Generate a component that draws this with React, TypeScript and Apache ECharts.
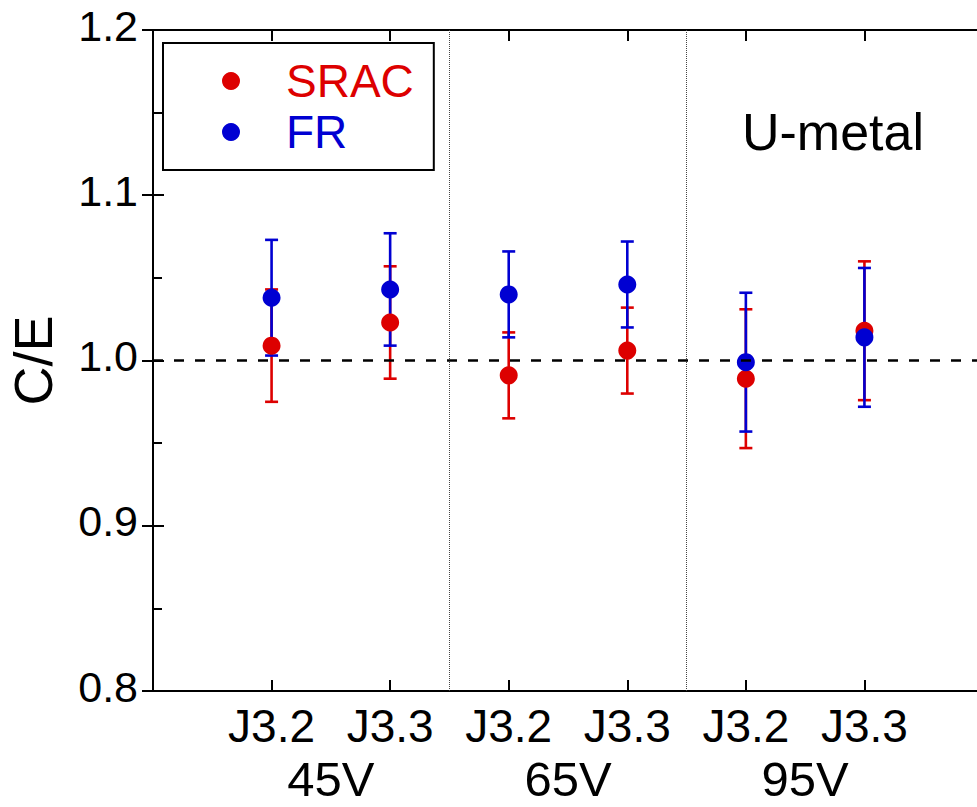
import React, { useEffect, useRef } from "react";
import * as echarts from "echarts";

// ---- data ----
const tickLabels = ["J3.2", "J3.3", "J3.2", "J3.3", "J3.2", "J3.3"];
const groupLabels = ["45V", "65V", "95V"];
const xPos = [1, 2, 3, 4, 5, 6];
const groupPos = [1.5, 3.5, 5.5];
const separators = [2.5, 4.5];
const sracValues = [1.009, 1.023, 0.991, 1.006, 0.989, 1.018];
const sracErrors = [0.034, 0.034, 0.026, 0.026, 0.042, 0.042];
const frValues = [1.038, 1.043, 1.04, 1.046, 0.999, 1.014];
const frErrors = [0.035, 0.034, 0.026, 0.026, 0.042, 0.042];
const referenceLine = 0.998;
const yTicks = [0.8, 0.9, 1.0, 1.1, 1.2];

const RED = "#dd0000";
const BLUE = "#0000d2";
const FONT = "'Liberation Sans', Arial, Helvetica, sans-serif";

function errData(vals: number[], errs: number[]) {
  return vals.map((v, i) => [xPos[i], v - errs[i], v + errs[i]]);
}

function errSeries(name: string, vals: number[], errs: number[], color: string) {
  return {
    type: "custom",
    name,
    xAxisIndex: 0,
    yAxisIndex: 0,
    silent: true,
    data: errData(vals, errs),
    renderItem: (params: any, api: any) => {
      const x = api.value(0);
      const lo = api.coord([x, api.value(1)]);
      const hi = api.coord([x, api.value(2)]);
      const hw = 6.5;
      const st = { stroke: color, lineWidth: 2.6 };
      return {
        type: "group",
        children: [
          { type: "line", shape: { x1: lo[0], y1: lo[1], x2: hi[0], y2: hi[1] }, style: st },
          { type: "line", shape: { x1: lo[0] - hw, y1: lo[1], x2: lo[0] + hw, y2: lo[1] }, style: st },
          { type: "line", shape: { x1: hi[0] - hw, y1: hi[1], x2: hi[0] + hw, y2: hi[1] }, style: st },
        ],
      };
    },
    z: 2,
  };
}

export default function App() {
  const ref = useRef<HTMLDivElement>(null);
  useEffect(() => {
    if (!ref.current) return;
    const chart = echarts.init(ref.current, null, { renderer: "svg" });
    const axisLine = { show: true, lineStyle: { color: "#000", width: 2 } };
    chart.setOption({
      animation: false,
      backgroundColor: "#fff",
      textStyle: { fontFamily: FONT },
      grid: {
        left: 153,
        top: 30,
        width: 830,
        height: 661,
        containLabel: false,
        outerBoundsMode: "none",
      },
      legend: {
        orient: "vertical",
        left: 163,
        top: 43,
        padding: [15, 20, 15, 59],
        itemWidth: 18,
        itemHeight: 18,
        itemGap: 5,
        icon: "circle",
        borderColor: "#000",
        borderWidth: 2,
        borderRadius: 0,
        selectedMode: false,
        formatter: (name: string) => `{g|}{t|${name}}`,
        textStyle: {
          fontSize: 46,
          lineHeight: 46,
          fontFamily: FONT,
          rich: {
            g: { width: 41, fontSize: 46, lineHeight: 46 },
            t: { fontSize: 46, lineHeight: 46, fontFamily: FONT },
          },
        },
        data: [
          { name: "SRAC", textStyle: { color: RED } },
          { name: "FR", textStyle: { color: BLUE } },
        ],
      },
      xAxis: [
        {
          type: "value",
          position: "bottom",
          min: 0,
          max: 7,
          interval: 1,
          axisLine,
          axisTick: { show: true, inside: true, length: 11, lineStyle: { color: "#000", width: 2 } },
          splitLine: { show: false },
          axisLabel: {
            margin: 12,
            fontSize: 46,
            color: "#000",
            fontFamily: FONT,
            formatter: (v: number) => {
              const i = xPos.indexOf(v);
              return i >= 0 ? tickLabels[i] : "";
            },
          },
        },
        {
          type: "value",
          position: "bottom",
          min: 0,
          max: 7,
          interval: 0.5,
          axisLine: { show: false },
          axisTick: { show: false },
          splitLine: { show: false },
          axisLabel: {
            margin: 68,
            fontSize: 49,
            lineHeight: 40,
            color: "#000",
            fontFamily: FONT,
            formatter: (v: number) => {
              const i = groupPos.indexOf(v);
              return i >= 0 ? groupLabels[i] : "";
            },
          },
        },
        {
          type: "value",
          position: "top",
          min: 0,
          max: 7,
          interval: 1,
          axisLine,
          axisTick: { show: true, inside: true, length: 11, lineStyle: { color: "#000", width: 2 } },
          splitLine: { show: false },
          axisLabel: { show: false },
        },
      ],
      yAxis: [
        {
          type: "value",
          position: "left",
          min: 0.8,
          max: 1.2,
          interval: 0.1,
          name: "C/E",
          nameLocation: "middle",
          nameGap: 93,
          nameRotate: 90,
          nameTextStyle: { fontSize: 54, color: "#000", fontFamily: FONT },
          axisLine,
          axisTick: { show: true, inside: true, length: 11, lineStyle: { color: "#000", width: 2 } },
          minorTick: { show: true, splitNumber: 2, length: 9, lineStyle: { color: "#000", width: 2 } },
          splitLine: { show: false },
          minorSplitLine: { show: false },
          axisLabel: {
            margin: 15,
            fontSize: 43,
            color: "#000",
            fontFamily: FONT,
            verticalAlign: "bottom",
            lineHeight: 9,
            formatter: (v: number) => {
              const t = yTicks.find((y) => Math.abs(y - v) < 1e-6);
              return t !== undefined ? t.toFixed(1) : "";
            },
          },
        },
        {
          type: "value",
          position: "right",
          min: 0.8,
          max: 1.2,
          interval: 0.1,
          axisLine,
          axisTick: { show: true, inside: true, length: 11, lineStyle: { color: "#000", width: 2 } },
          splitLine: { show: false },
          axisLabel: { show: false },
        },
      ],
      graphic: [
        {
          type: "text",
          left: 742,
          top: 106,
          style: { text: "U-metal", fontSize: 52, fill: "#000", fontFamily: FONT },
        },
      ],
      series: [
        errSeries("SRAC err", sracValues, sracErrors, RED),
        errSeries("FR err", frValues, frErrors, BLUE),
        {
          type: "scatter",
          name: "SRAC",
          xAxisIndex: 0,
          yAxisIndex: 0,
          symbol: "circle",
          symbolSize: 18,
          itemStyle: { color: RED, opacity: 1 },
          data: sracValues.map((v, i) => [xPos[i], v]),
          z: 3,
          markLine: {
            silent: true,
            symbol: "none",
            label: { show: false },
            animation: false,
            data: [
              ...separators.map((s) => ({
                xAxis: s,
                lineStyle: { color: "#444", width: 1, type: [1, 1] },
              })),
              {
                yAxis: referenceLine,
                lineStyle: { color: "#000", width: 2.6, type: [10, 11] },
              },
            ],
          },
        },
        {
          type: "scatter",
          name: "FR",
          xAxisIndex: 0,
          yAxisIndex: 0,
          symbol: "circle",
          symbolSize: 18,
          itemStyle: { color: BLUE, opacity: 1 },
          data: frValues.map((v, i) => [xPos[i], v]),
          z: 4,
        },
      ],
    });
    return () => chart.dispose();
  }, []);
  return (
    <div
      style={{
        position: "absolute",
        left: 0,
        top: 0,
        width: 977,
        height: 807,
        overflow: "hidden",
      }}
    >
      <div ref={ref} style={{ width: 990, height: 807 }} />
    </div>
  );
}
